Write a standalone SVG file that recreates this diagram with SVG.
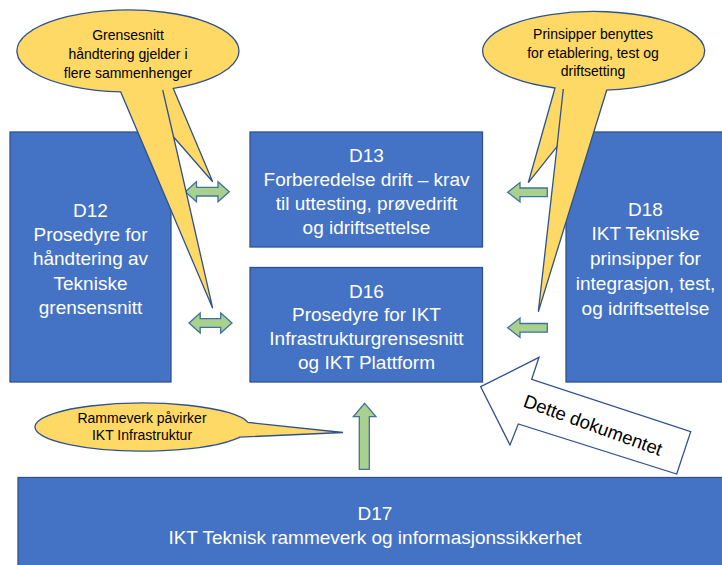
<svg xmlns="http://www.w3.org/2000/svg" width="722" height="565" viewBox="0 0 722 565">
<style>
.box{fill:#4472C4;stroke:#2F528F;stroke-width:1.3}
.bt{font-family:"Liberation Sans",Arial,sans-serif;font-size:19px;fill:#FFFFFF;text-anchor:middle}
.call{fill:#FFD966;stroke:#2F528F;stroke-width:1.3;stroke-linejoin:miter}
.ct{font-family:"Liberation Sans",Arial,sans-serif;font-size:14px;fill:#000000;text-anchor:middle}
.ga{fill:#A9D18E;stroke:#41719C;stroke-width:1.3}
.wa{fill:#FFFFFF;stroke:#2F528F;stroke-width:1.3}
.wt{font-family:"Liberation Sans",Arial,sans-serif;font-size:18.5px;fill:#000000;text-anchor:middle}
</style>
<rect width="722" height="565" fill="#FFFFFF"/>

<g id="D12">
<rect class="box" x="10" y="132" width="161" height="250"/>
<text class="bt"><tspan x="90.5" y="217">D12</tspan><tspan x="90.5" y="241">Prosedyre for</tspan><tspan x="90.5" y="265">håndtering av</tspan><tspan x="90.5" y="290">Tekniske</tspan><tspan x="90.5" y="314">grensensnitt</tspan></text>
</g>

<g id="D13">
<rect class="box" x="250" y="132" width="232.5" height="115"/>
<text class="bt"><tspan x="366.5" y="162">D13</tspan><tspan x="366.5" y="186">Forberedelse drift – krav</tspan><tspan x="366.5" y="210">til uttesting, prøvedrift</tspan><tspan x="366.5" y="234">og idriftsettelse</tspan></text>
</g>

<g id="D16">
<rect class="box" x="250" y="267.5" width="232.5" height="114.5"/>
<text class="bt"><tspan x="366.5" y="297.5">D16</tspan><tspan x="366.5" y="321">Prosedyre for IKT</tspan><tspan x="366.5" y="345">Infrastrukturgrensesnitt</tspan><tspan x="366.5" y="368.5">og IKT Plattform</tspan></text>
</g>

<g id="D18">
<rect class="box" x="566" y="132" width="160" height="250"/>
<text class="bt"><tspan x="645.5" y="216">D18</tspan><tspan x="645.5" y="240">IKT Tekniske</tspan><tspan x="645.5" y="265">prinsipper for</tspan><tspan x="645.5" y="290">integrasjon, test,</tspan><tspan x="645.5" y="315">og idriftsettelse</tspan></text>
</g>

<g id="D17">
<rect class="box" x="18" y="477.5" width="710" height="95"/>
<text class="bt"><tspan x="375" y="520">D17</tspan><tspan x="375" y="543.5">IKT Teknisk rammeverk og informasjonssikkerhet</tspan></text>
</g>

<g id="connectors">
<polygon class="ga" points="185.3,191.7 196.5,181.7 196.5,187.4 218,187.4 218,181.7 229.3,191.7 218,201.7 218,196 196.5,196 196.5,201.7"/>
<polygon class="ga" points="189,323 200.2,313 200.2,318.7 220.7,318.7 220.7,313 232,323 220.7,333 220.7,327.3 200.2,327.3 200.2,333"/>
<polygon class="ga" points="507.7,192.3 520,182.5 520,188 547.3,188 547.3,196.7 520,196.7 520,202"/>
<polygon class="ga" points="507.7,327.8 520,318 520,323.5 547.3,323.5 547.3,332.2 520,332.2 520,337.5"/>
<polygon class="ga" points="364.7,403.3 376,416.7 369.3,416.7 369.3,469.3 359.3,469.3 359.3,416.7 353.3,416.7"/>
</g>

<g id="callout-grensesnitt">
<path class="call" d="M120.7,91.9 A111 41 0 1 1 173.3,88.4 L212.7,181.7 L173.6,137 L212.7,308.3 Z"/>
<line x1="162.7" y1="90" x2="173.6" y2="137" stroke="#2F528F" stroke-width="1.3"/>
<text class="ct"><tspan x="128" y="40">Grensesnitt</tspan><tspan x="128" y="59">håndtering gjelder i</tspan><tspan x="128" y="78">flere sammenhenger</tspan></text>
</g>

<g id="callout-prinsipper">
<path class="call" d="M555,88 L528.3,182.7 L557,146.7 L538.3,311.7 L606.7,90.2 A111 39.5 0 1 0 555,88 Z"/>
<line x1="563.3" y1="89" x2="557" y2="146.7" stroke="#2F528F" stroke-width="1.3"/>
<text class="ct"><tspan x="593" y="39">Prinsipper benyttes</tspan><tspan x="593" y="58">for etablering, test og</tspan><tspan x="593" y="76">driftsetting</tspan></text>
</g>

<g id="callout-rammeverk">
<path class="call" d="M248,422.4 L343,432.5 L240,437.1 A107.5 24 0 1 1 248,422.4 Z"/>
<text class="ct"><tspan x="142" y="423">Rammeverk påvirker</tspan><tspan x="142" y="440">IKT Infrastruktur</tspan></text>
</g>

<g id="dette-dokumentet">
<polygon class="wa" points="480.7,386.7 539,357.3 531.7,379.3 690.7,431.7 676.7,474 518.3,424 510,445"/>
<text class="wt" transform="translate(593,425) rotate(20)" y="6.5">Dette dokumentet</text>
</g>
</svg>
